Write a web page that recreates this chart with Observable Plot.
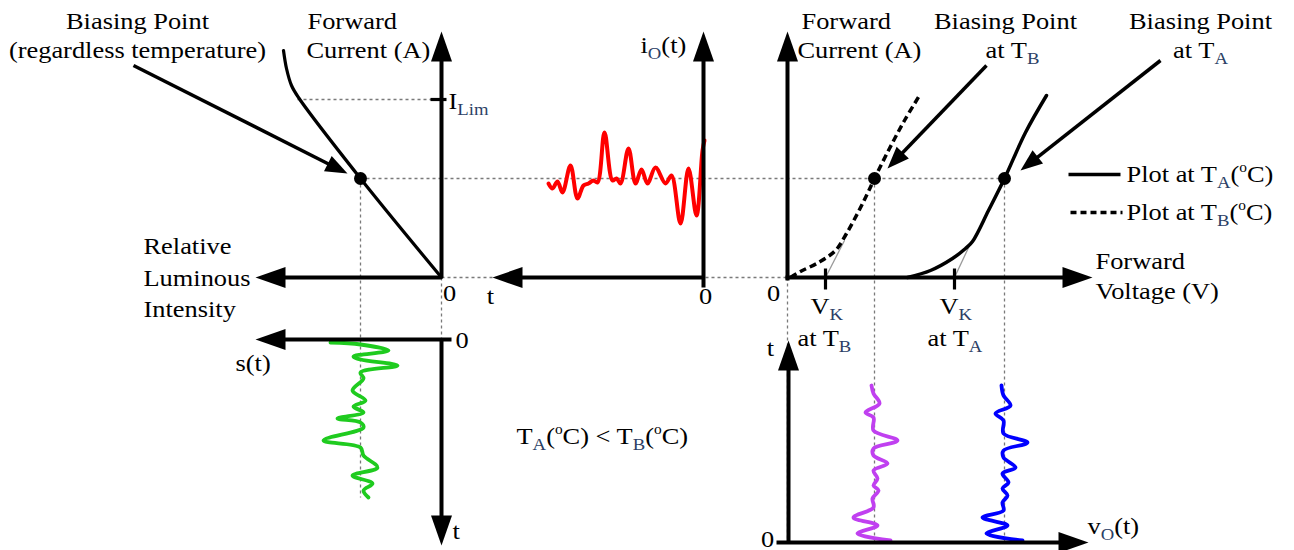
<!DOCTYPE html>
<html>
<head>
<meta charset="utf-8">
<script src="https://cdn.jsdelivr.net/npm/d3@7"></script>
<script src="https://cdn.jsdelivr.net/npm/@observablehq/plot@0.6"></script>
</head>
<body style="margin:0;background:white">
<div id="chart"></div>
<script>
// ---------- data (diagram coordinates) ----------
// Luminous intensity vs forward current (left quadrant)
const ledLum = [[283,50],[286,68],[291,85],[298,97],[360,178],[441,277]];
// I-V characteristics (right quadrant)
const ivTB = [[790,277],[800,271],[818,262],[835,250],[846,233],[857,213],[866,195],[874,178],[889,148],[904,120],[919,95]];
const ivTA = [[907,277],[930,270],[952,258],[965,248],[972,241],[988,210],[1004,178],[1025,132],[1046,95]];
// signals
const ioSignal = [[548,183],[552,188],[557,181],[562,192],[570,165],[577,198],[583,185],[588,183],[593,180],[597,182],[604,132],[612,180],[616,178],[620,183],[628,148],[635,183],[641,169],[647,183],[655,167],[665,183],[671,175],[680,223],[688,168],[696,215],[702,150],[704,140]];
const sSignal = [[330,342],[360,344],[388,350],[353,356],[360,359],[397,365],[360,372],[363,378],[352,390],[365,400],[353,406],[363,412],[337,418],[360,422],[363,427],[323,440],[360,447],[363,455],[377,467],[352,475],[372,483],[363,490],[368,497]];
const voTB = [[871,385],[873,393],[879,403],[865,412],[873,417],[873,430],[897,440],[873,448],[873,455],[887,463],[873,470],[877,478],[873,485],[878,490],[872,498],[873,507],[853,517],[877,525],[857,533],[890,540]];
const voTA = [[1001,385],[1003,395],[1010,405],[995,413],[1003,420],[1003,433],[1027,442],[1003,450],[1003,457],[1015,467],[1002,473],[1008,482],[1002,488],[1007,495],[1002,502],[1003,510],[982,517],[1007,525],[986,533],[1022,540]];
// biasing points
const biasPoints = [[360,178],[874,178],[1004,178]];
// axes (start -> arrow tip)
const axesList = [
  [441,277,441,31],[441,277,255,277],
  [451,339,255,339],[441,339,441,545],
  [703,287,703,31],[703,277,492,277],
  [787,280,787,31],[785,277,1092,277],
  [788,542,788,340],[776,542,1088,542]
];
// pointer arrows
const pointers = [[133,65,347,173],[986,65,887,168],[1160,60,1020,170]];
// dotted guides
const guides = [
  [360,178,1004,178],[360,178,360,497],[297,99,441,99],
  [441,277,787,277],[441,277,441,339],[787,277,787,542],
  [874,178,874,542],[1004,178,1004,542]
];
const tangents = [[825,277,844,240],[954,277,969,245]];
const ticks = [[430,99,446,99],[825,268,825,289],[954,268,954,289]];
const legendSolid = [[1068,174,1120,174]];
const legendDashed = [[1070,212,1122,212]];
// text labels: [text, x, baseline y, anchor]
const labels = [
  ["Biasing Point",137,28,"middle"],["(regardless temperature)",137,57,"middle"],
  ["Forward",307,28,"start"],["Current (A)",306,57,"start"],
  ["I_{Lim}",448,108,"start"],
  ["Relative",143,253,"start"],["Luminous",143,285,"start"],["Intensity",143,316,"start"],
  ["0",449,300,"middle"],["0",455,347,"start"],["s(t)",235,370,"start"],["t",452,538,"start"],
  ["T_{A}(^{o}C) < T_{B}(^{o}C)",516,443,"start"],
  ["i_{O}(t)",640,52,"start"],["t",490,303,"middle"],["0",705,303,"middle"],
  ["0",773,300,"middle"],
  ["Forward",801,28,"start"],["Current (A)",797,57,"start"],
  ["Biasing Point",1005,28,"middle"],["at T_{B}",1012,57,"middle"],
  ["Biasing Point",1200,28,"middle"],["at T_{A}",1200,57,"middle"],
  ["Plot at T_{A}(^{o}C)",1126,181,"start"],["Plot at T_{B}(^{o}C)",1126,219,"start"],
  ["Forward",1095,268,"start"],["Voltage (V)",1095,298,"start"],
  ["V_{K}",810,313,"start"],["at T_{B}",797,345,"start"],
  ["V_{K}",939,313,"start"],["at T_{A}",927,345,"start"],
  ["t",770,355,"middle"],["0",767,546,"middle"],["v_{O}(t)",1087,533,"start"]
];

// ---------- helpers ----------
const seg = a => ({x1:a[0], y1:a[1], x2:a[2], y2:a[3]});
function arrows(list, len, hw) {
  const shafts = [], heads = [];
  list.forEach((a, i) => {
    const [x1,y1,x2,y2] = a;
    const dx = x2-x1, dy = y2-y1, L = Math.hypot(dx,dy), ux = dx/L, uy = dy/L;
    const bx = x2-ux*len, by = y2-uy*len;
    shafts.push({x1, y1, x2: bx+ux*3, y2: by+uy*3});
    heads.push({id:i,x:x2,y:y2},{id:i,x:bx-uy*hw,y:by+ux*hw},{id:i,x:bx+uy*hw,y:by-ux*hw},{id:i,x:x2,y:y2});
  });
  return {shafts, heads};
}
const ax = arrows(axesList, 30, 10.5);
const pt = arrows(pointers, 22, 8.5);
const P = {x: d => d[0], y: d => d[1]};
const L = {x1:"x1", y1:"y1", x2:"x2", y2:"y2"};
const lab = labels.map(d => ({t:d[0], x:d[1], y:d[2], a:d[3]}));
const FONT = "Liberation Serif";
const FS = 24;
const textOpts = {x:"x", y:"y", text:"t", lineAnchor:"bottom", fontSize:FS, fontFamily:FONT, fill:"black"};

const plot = Plot.plot({
  width: 1294, height: 550,
  marginTop: 0, marginRight: 0, marginBottom: 0, marginLeft: 0,
  x: {domain: [0, 1294], axis: null},
  y: {domain: [550, 0], axis: null},
  marks: [
    Plot.link(guides.map(seg), {...L, stroke:"#7a7a7a", strokeWidth:1.3, strokeDasharray:"3,3"}),
    Plot.link(tangents.map(seg), {...L, stroke:"#9a9a9a", strokeWidth:1.3}),
    Plot.line(sSignal, {...P, curve:"catmull-rom", stroke:"#1fcb1f", strokeWidth:3.8}),
    Plot.line(ioSignal, {...P, curve:"catmull-rom", stroke:"#ff0000", strokeWidth:4}),
    Plot.line(voTB, {...P, curve:"catmull-rom", stroke:"#c040f0", strokeWidth:3.8}),
    Plot.line(voTA, {...P, curve:"catmull-rom", stroke:"#0000ff", strokeWidth:3.8}),
    Plot.line(ledLum, {...P, curve:"catmull-rom", stroke:"black", strokeWidth:3.2}),
    Plot.line(ivTB, {...P, curve:"catmull-rom", stroke:"black", strokeWidth:3.5, strokeDasharray:"7,4", strokeLinecap:"butt"}),
    Plot.line(ivTA, {...P, curve:"catmull-rom", stroke:"black", strokeWidth:3.5}),
    Plot.link(ax.shafts, {...L, stroke:"black", strokeWidth:4}),
    Plot.line(ax.heads, {x:"x", y:"y", z:"id", fill:"black", stroke:"none"}),
    Plot.link(ticks.map(seg), {...L, stroke:"black", strokeWidth:3.2}),
    Plot.link(pt.shafts, {...L, stroke:"black", strokeWidth:3.5}),
    Plot.line(pt.heads, {x:"x", y:"y", z:"id", fill:"black", stroke:"none"}),
    Plot.link(legendSolid.map(seg), {...L, stroke:"black", strokeWidth:3.5}),
    Plot.link(legendDashed.map(seg), {...L, stroke:"black", strokeWidth:3.5, strokeDasharray:"6,4"}),
    Plot.dot(biasPoints, {...P, r:6.5, fill:"black", stroke:"none"}),
    Plot.text(lab.filter(d => d.a === "start"), {...textOpts, textAnchor:"start"}),
    Plot.text(lab.filter(d => d.a === "middle"), {...textOpts, textAnchor:"middle"})
  ]
});

// every label rebuilt as tspans (sub/superscripts handled); the reference's type is slightly wide
const NS = "http://www.w3.org/2000/svg";
const SX = 1.1;
plot.querySelectorAll("text").forEach(el => {
  const s = el.textContent;
  el.textContent = "";
  el.setAttribute("font-family", FONT);
  const tr = el.getAttribute("transform");
  if (tr && /translate/.test(tr)) {
    el.setAttribute("transform", tr + ` scale(${SX},1)`);
  } else {
    const x = +el.getAttribute("x") || 0, y = +el.getAttribute("y") || 0;
    el.removeAttribute("x"); el.removeAttribute("y");
    el.setAttribute("transform", `translate(${x},${y}) scale(${SX},1)`);
  }
  const re = /([_^])\{([^}]*)\}/g;
  let last = 0, m, shift = 0;
  const add = (str, kind) => {
    const ts = document.createElementNS(NS, "tspan");
    ts.textContent = str;
    ts.setAttribute("font-family", FONT);
    const target = kind === "_" ? 6 : kind === "^" ? -10 : 0;
    if (target !== shift) { ts.setAttribute("dy", target - shift); shift = target; }
    if (kind === "_") { ts.setAttribute("font-size", "17"); ts.setAttribute("fill", "#2c3f66"); }
    else if (kind === "^") ts.setAttribute("font-size", "14");
    else ts.setAttribute("font-size", FS);
    el.appendChild(ts);
  };
  while ((m = re.exec(s))) {
    if (m.index > last) add(s.slice(last, m.index), null);
    add(m[2], m[1]);
    last = re.lastIndex;
  }
  if (last < s.length) add(s.slice(last), null);
});

document.getElementById("chart").appendChild(plot);
</script>
</body>
</html>
